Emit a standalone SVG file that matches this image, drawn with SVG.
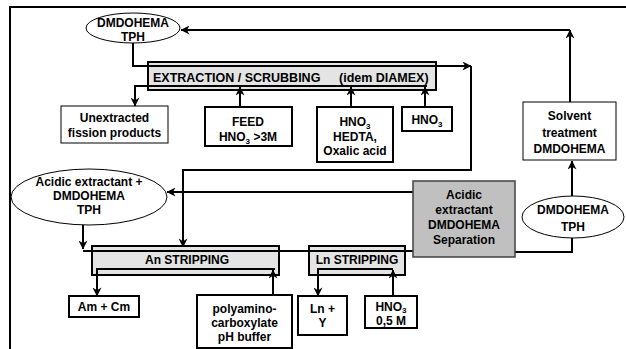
<svg xmlns="http://www.w3.org/2000/svg" width="626" height="349" viewBox="0 0 626 349">
<defs>
<marker id="ah" viewBox="0 0 10 10" refX="9.5" refY="5" markerWidth="9" markerHeight="9" markerUnits="userSpaceOnUse" orient="auto"><path d="M0,0 L10,5 L0,10 L3,5 z" fill="#000"/></marker>
<style>
text{font-family:"Liberation Sans",Arial,sans-serif;font-weight:bold;font-size:12px;fill:#000;text-anchor:middle}
.box{fill:#fff;stroke:#000;stroke-width:2}
.thin{fill:#fff;stroke:#000;stroke-width:1}
.strip{fill:#e4e4e4;stroke:#000;stroke-width:2}
.ell{fill:#fff;stroke:#000;stroke-width:1}
.ln{fill:none;stroke:#000;stroke-width:2}
.arr{fill:none;stroke:#000;stroke-width:2;marker-end:url(#ah)}
.sub{font-size:8px}
.lbl{text-anchor:start;font-size:12.5px}
</style>
</defs>
<rect width="626" height="349" fill="#fff"/>
<path d="M10,349 L10,7 L626,7" fill="none" stroke="#000" stroke-width="2"/>

<g id="extraction">
<rect class="strip" x="148" y="62" width="288" height="28"/>
<text class="lbl" x="153" y="82">EXTRACTION / SCRUBBING</text>
<text class="lbl" x="339" y="82">(idem DIAMEX)</text>
</g>
<g id="an-stripping">
<rect class="strip" x="92" y="246" width="187" height="29"/>
<text x="187" y="264">An STRIPPING</text>
</g>
<g id="ln-stripping">
<rect class="strip" x="309" y="246" width="96" height="29"/>
<text x="357" y="264">Ln STRIPPING</text>
</g>

<g id="connectors">
<path class="arr" d="M133,43 L133,66 L436,66 L471,66"/>
<path class="arr" d="M471,66 L471,170 L183,170 L183,247"/>
<path class="arr" d="M570,102 L570,30"/>
<path class="arr" d="M570,30 L181,30"/>
<path class="arr" d="M427,86 L135,86 L135,106"/>
<path class="arr" d="M240,107 L240,87"/>
<path class="arr" d="M351,107 L351,87"/>
<path class="arr" d="M425,107 L425,87"/>
<path class="arr" d="M413,192 L167,192"/>
<path class="arr" d="M83,225 L83,249"/>
<path class="ln" d="M83,251 L413,251"/>
<path class="ln" d="M515,252 L572,252 L572,238"/>
<path class="arr" d="M572,197 L572,161"/>
<path class="arr" d="M275,269 L97,269 L97,296"/>
<path class="arr" d="M273,296 L273,270"/>
<path class="arr" d="M393,269 L318,269 L318,296"/>
<path class="arr" d="M393,296 L393,270"/>
</g>

<g id="dmdohema-top">
<ellipse class="ell" cx="133" cy="28" rx="47" ry="15"/>
<text x="133" y="27">DMDOHEMA</text>
<text x="133" y="41">TPH</text>
</g>
<g id="unextracted">
<rect class="thin" x="61" y="106" width="107" height="37"/>
<text x="114.5" y="122">Unextracted</text>
<text x="114.5" y="137">fission products</text>
</g>
<g id="feed">
<rect class="box" x="205" y="107" width="87" height="39"/>
<text x="248" y="126">FEED</text>
<text x="248" y="141">HNO<tspan class="sub" dy="3">3</tspan><tspan dy="-3"> &gt;3M</tspan></text>
</g>
<g id="hedta">
<rect class="box" x="317" y="107" width="76" height="55"/>
<text x="355" y="126">HNO<tspan class="sub" dy="3">3</tspan></text>
<text x="355" y="141">HEDTA,</text>
<text x="355" y="155">Oxalic acid</text>
</g>
<g id="hno3-scrub">
<rect class="box" x="402" y="107" width="50" height="24"/>
<text x="427" y="124">HNO<tspan class="sub" dy="3">3</tspan></text>
</g>
<g id="solvent-treatment">
<rect class="thin" x="523" y="102" width="93" height="58"/>
<text x="569.5" y="120">Solvent</text>
<text x="569.5" y="137">treatment</text>
<text x="569.5" y="153">DMDOHEMA</text>
</g>
<g id="acidic-ellipse">
<ellipse class="ell" cx="89" cy="197" rx="78" ry="28"/>
<text x="89" y="186">Acidic extractant +</text>
<text x="89" y="200">DMDOHEMA</text>
<text x="89" y="214">TPH</text>
</g>
<g id="separation">
<rect x="413" y="181" width="102" height="76" fill="#c0c0c0" stroke="#404040" stroke-width="1.5"/>
<text x="464" y="199" fill="#222">Acidic</text>
<text x="464" y="214" fill="#222">extractant</text>
<text x="464" y="229" fill="#222">DMDOHEMA</text>
<text x="464" y="244" fill="#222">Separation</text>
</g>
<g id="dmdohema-right">
<ellipse class="ell" cx="573" cy="217" rx="51" ry="21"/>
<text x="573" y="214">DMDOHEMA</text>
<text x="573" y="231">TPH</text>
</g>
<g id="am-cm">
<rect class="box" x="69" y="296" width="70" height="21"/>
<text x="104" y="311">Am + Cm</text>
</g>
<g id="polyamino">
<rect class="box" x="197" y="295" width="95" height="53"/>
<text x="244.5" y="313">polyamino-</text>
<text x="244.5" y="327">carboxylate</text>
<text x="244.5" y="341">pH buffer</text>
</g>
<g id="ln-y">
<rect class="box" x="298" y="296" width="49" height="39"/>
<text x="322.5" y="313">Ln +</text>
<text x="322.5" y="327">Y</text>
</g>
<g id="hno3-05">
<rect class="box" x="365" y="296" width="52" height="32"/>
<text x="391" y="311">HNO<tspan class="sub" dy="2">3</tspan></text>
<text x="391" y="325">0,5 M</text>
</g>
</svg>
